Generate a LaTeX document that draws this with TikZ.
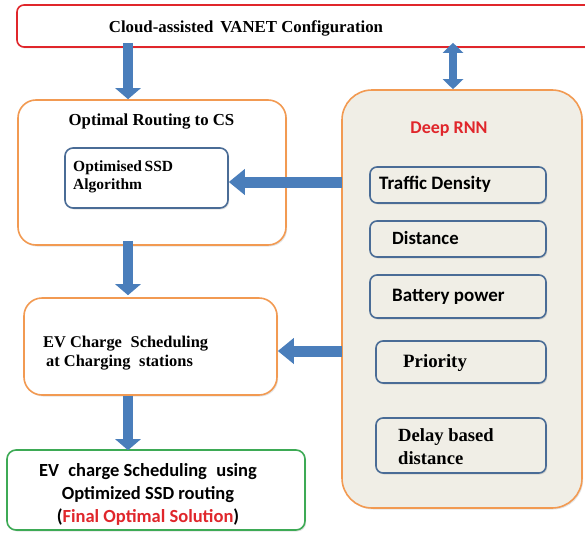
\documentclass[tikz,border=0pt]{standalone}
\usepackage{fontspec}
\setmainfont{Liberation Serif}
\newfontfamily\calib{Carlito}
\usetikzlibrary{arrows.meta,shadows}
\definecolor{arrblue}{HTML}{4A7EBB}
\definecolor{boxblue}{HTML}{4A6C96}
\definecolor{orng}{HTML}{F29A52}
\definecolor{redb}{HTML}{E0262B}
\definecolor{grn}{HTML}{3DAA55}
\definecolor{beige}{HTML}{F0EEE6}
\definecolor{txtred}{HTML}{E0262B}
\tikzset{
  shad/.style={drop shadow={opacity=0.22,shadow xshift=1.2pt,shadow yshift=-1.5pt}},
  bigbox/.style={draw=orng,line width=1.6pt,rounded corners=18pt,fill=white,shad},
  inbox/.style={draw=boxblue,line width=1.6pt,rounded corners=7pt,fill=beige,shad},
  blockarrow/.style={line width=10pt,arrblue,-{Triangle[width=25pt,length=11pt]}},
  harrow/.style={line width=11pt,arrblue,-{Triangle[width=25pt,length=16pt]}},
  dblarrow/.style={line width=8pt,arrblue,{Triangle[width=20pt,length=10pt]}-{Triangle[width=20pt,length=10pt]}},
}
\begin{document}
\begin{tikzpicture}[x=1pt,y=-1pt]
\useasboundingbox (0,0) rectangle (585,535);
\clip (0,0) rectangle (585,535);
% top box
\node[draw=redb,line width=1.6pt,rounded corners=7pt,fill=white,shad,minimum width=583pt,minimum height=42pt] (cloud) at (308.5,26) {};
\node[font=\bfseries\fontsize{16.8}{19}\selectfont] (cloudtxt) at (246,28) {Cloud-assisted\, VANET Configuration};
% left column
\node[bigbox,minimum width=268pt,minimum height=145pt] (ort) at (152,172.5) {};
\node[font=\bfseries\fontsize{16.8}{19}\selectfont] (orttxt) at (151.5,122) {Optimal Routing to CS};
\node[draw=boxblue,line width=1.6pt,rounded corners=8pt,fill=white,shad,minimum width=163pt,minimum height=60pt] (ssd) at (146.5,178) {};
\node[anchor=west,align=left,inner sep=0pt,font=\bfseries\fontsize{15.5}{18}\selectfont] (ssdtxt) at (73,177) {Optimised\,SSD\\Algorithm};
\node[bigbox,minimum width=253pt,minimum height=97pt] (ev) at (150.5,346.5) {};
\node[anchor=west,align=left,inner sep=0pt,font=\bfseries\fontsize{16.4}{19}\selectfont] (evtxt) at (43,353) {EV Charge\; Scheduling\\\hspace{3pt}at Charging\; stations};
\node[draw=grn,line width=1.6pt,rounded corners=9pt,fill=white,shad,minimum width=298pt,minimum height=80pt] (final) at (156,490) {};
\node[align=center,font=\calib\bfseries\fontsize{18.5}{23}\selectfont] (finaltxt) at (148,494) {EV\;\ charge Scheduling\;\ using\\Optimized SSD routing\\({\color{txtred}Final Optimal Solution})};
% right column
\node[draw=orng,line width=1.6pt,rounded corners=30pt,fill=beige,shad,minimum width=240pt,minimum height=418pt] (rnn) at (462,299) {};
\node[text=txtred,font=\calib\bfseries\fontsize{18}{20}\selectfont] (rnntxt) at (449,129) {Deep RNN};
\node[inbox,minimum width=176pt,minimum height=36pt] (td) at (458,185) {};
\node[anchor=west,inner sep=0pt,font=\calib\bfseries\fontsize{19}{20}\selectfont] (tdtxt) at (379,184) {Traffic Density};
\node[inbox,minimum width=176pt,minimum height=36pt] (dist) at (458,239) {};
\node[anchor=west,inner sep=0pt,font=\calib\bfseries\fontsize{18.7}{20}\selectfont] (disttxt) at (392,238) {Distance};
\node[inbox,minimum width=176pt,minimum height=43pt] (bat) at (458,296.5) {};
\node[anchor=west,inner sep=0pt,font=\calib\bfseries\fontsize{19}{20}\selectfont] (battxt) at (392,297) {Battery power};
\node[inbox,minimum width=170pt,minimum height=42pt] (pri) at (461,362) {};
\node[anchor=west,inner sep=0pt,font=\bfseries\fontsize{18.8}{20}\selectfont] (pritxt) at (403,363) {Priority};
\node[inbox,minimum width=170pt,minimum height=55pt] (del) at (461,445.5) {};
\node[anchor=west,align=left,inner sep=0pt,font=\bfseries\fontsize{18.6}{23}\selectfont] (deltxt) at (398,446.5) {Delay based\\distance};
% arrows
\coordinate (colx) at (128,0);
\coordinate (dblx) at (453,0);
\draw[blockarrow] ([yshift=5pt]colx |- cloud.south) -- (colx |- ort.north);
\draw[blockarrow] ([yshift=5pt]colx |- ort.south) -- ([yshift=2pt]colx |- ev.north);
\draw[blockarrow] (colx |- ev.south) -- ([yshift=-1pt]colx |- final.north);
\draw[dblarrow] ([yshift=5pt]dblx |- cloud.south) -- (dblx |- rnn.north);
\coordinate (h1) at (0,182);
\coordinate (h2) at (0,351);
\draw[harrow] ([xshift=1pt]rnn.west |- h1) -- (ssd.east |- h1);
\draw[harrow] ([xshift=1pt]rnn.west |- h2) -- (ev.east |- h2);
\end{tikzpicture}
\end{document}
